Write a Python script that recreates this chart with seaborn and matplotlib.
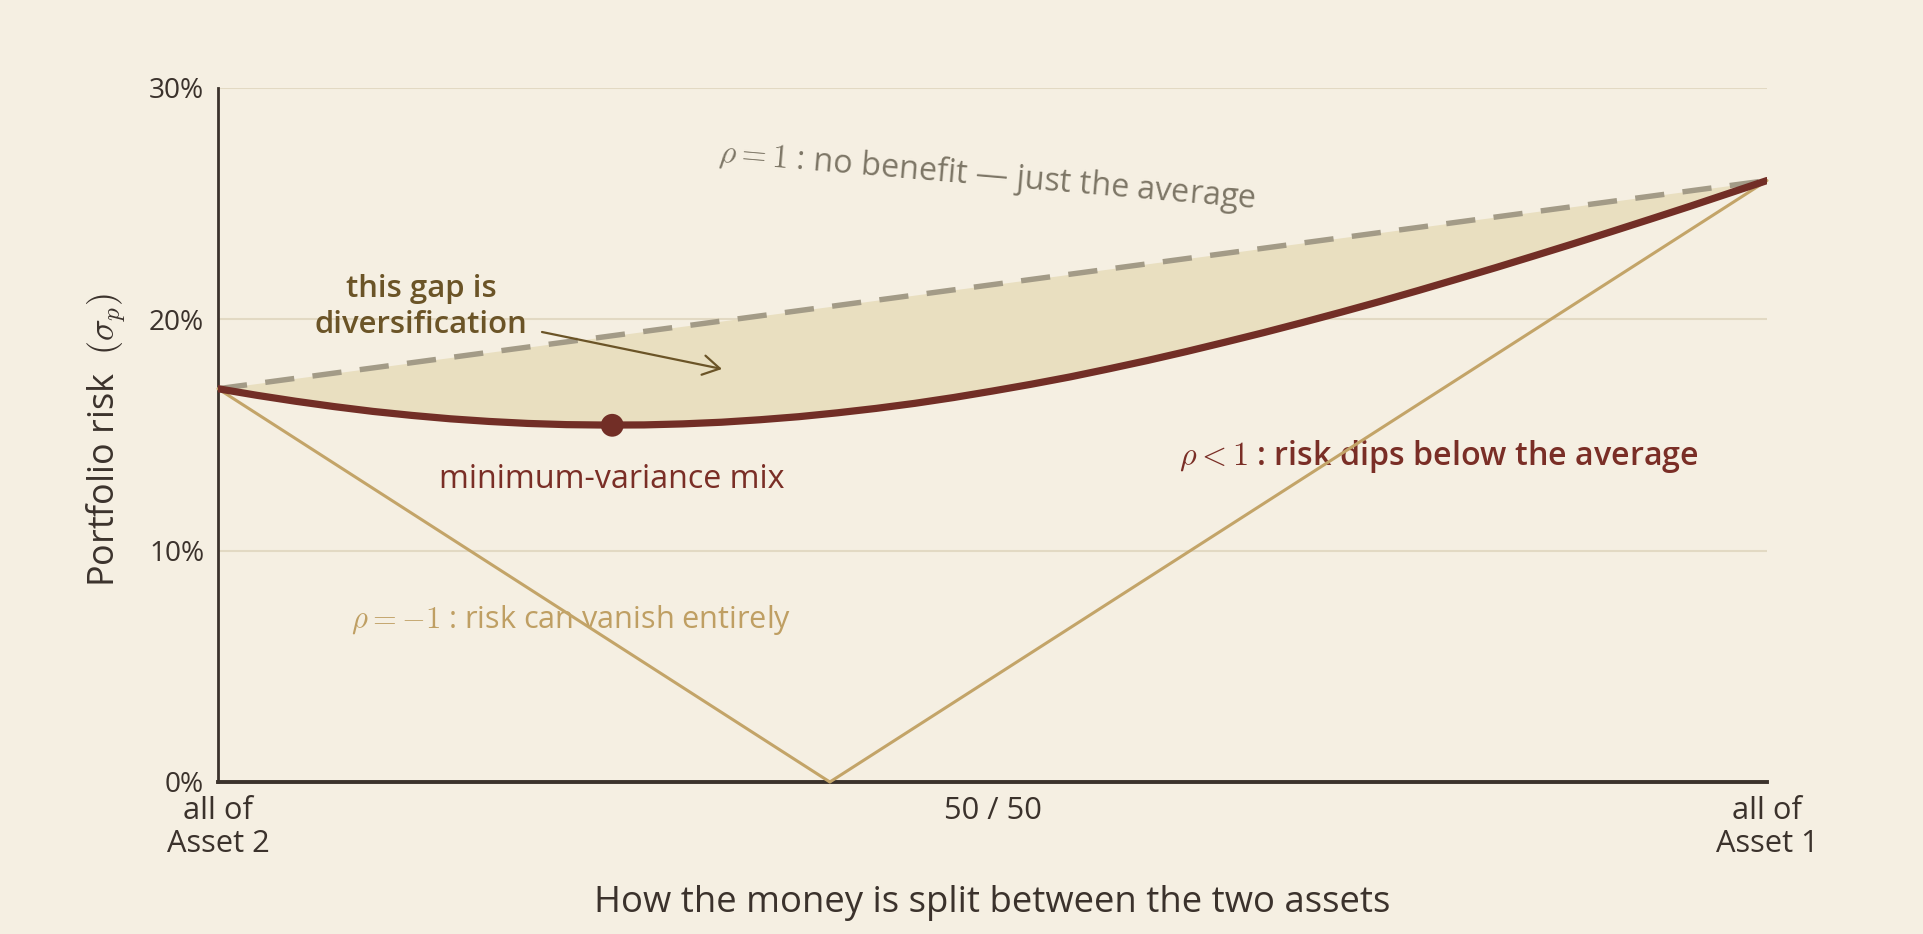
import matplotlib
matplotlib.use("Agg")
import matplotlib.pyplot as plt
import seaborn as sns
import pandas as pd

# ---------------- data ----------------
weights = [0.000, 0.025, 0.050, 0.075, 0.100, 0.125, 0.150, 0.175, 0.200, 0.225,
           0.250, 0.275, 0.300, 0.325, 0.350, 0.375, 0.400, 0.425, 0.450, 0.475,
           0.500, 0.525, 0.550, 0.575, 0.600, 0.625, 0.650, 0.675, 0.700, 0.725,
           0.750, 0.775, 0.800, 0.825, 0.850, 0.875, 0.900, 0.925, 0.950, 0.975, 1.000]
risk_partial = [17.000, 16.717, 16.460, 16.228, 16.020, 15.848, 15.700, 15.586, 15.500, 15.448,
                15.430, 15.436, 15.480, 15.552, 15.660, 15.792, 15.960, 16.151, 16.370, 16.621,
                16.900, 17.194, 17.510, 17.858, 18.220, 18.605, 19.010, 19.425, 19.860, 20.308,
                20.770, 21.248, 21.740, 22.237, 22.750, 23.269, 23.800, 24.337, 24.880, 25.439, 26.000]
risk_perfect = [17.000, 17.225, 17.450, 17.675, 17.900, 18.125, 18.350, 18.575, 18.800, 19.025,
                19.250, 19.475, 19.700, 19.925, 20.150, 20.375, 20.600, 20.825, 21.050, 21.275,
                21.500, 21.725, 21.950, 22.175, 22.400, 22.625, 22.850, 23.075, 23.300, 23.525,
                23.750, 23.975, 24.200, 24.425, 24.650, 24.875, 25.100, 25.325, 25.550, 25.775, 26.000]
neg_weights = [0.000, 0.395, 1.000]
risk_negative = [17.0, 0.0, 26.0]
min_var_weight = [0.2545]
min_var_risk = [15.42]

y_ticks = [0, 10, 20, 30]
y_tick_labels = ["0%", "10%", "20%", "30%"]
x_ticks = [0.0, 0.5, 1.0]
x_tick_labels = ["all of\nAsset 2", "50 / 50", "all of\nAsset 1"]

df_main = pd.DataFrame({"w": weights, "partial": risk_partial, "perfect": risk_perfect})
df_neg = pd.DataFrame({"w": neg_weights, "risk": risk_negative})

# ---------------- style ----------------
BG = "#F5EFE2"
RED = "#722E26"
RED_TXT = "#7A2E26"
DASH = "#A39B87"
FILL = "#E9DFC0"
TAN = "#C3A468"
TAN_TXT = "#BF9F63"
GRID = "#E2D9C3"
INK = "#3B322C"
GAP_TXT = "#6B5427"
GRAY_TXT = "#7D7666"

sns.set_theme(style="white")
plt.rcParams["font.family"] = ["Open Sans", "DejaVu Sans"]
plt.rcParams["mathtext.fontset"] = "cm"

W, H = 1924, 934
fig = plt.figure(figsize=(W / 100, H / 100), dpi=100, facecolor=BG)
L, R, T, B = 218, 1767, 88, 782
ax = fig.add_axes([L / W, 1 - B / H, (R - L) / W, (B - T) / H])
ax.set_facecolor(BG)

def px2data(px, py):
    return (px - L) / (R - L), (B - py) / (B - T) * 30.0

# fill between the two curves
ax.fill_between(df_main["w"], df_main["partial"], df_main["perfect"], color=FILL, lw=0, zorder=1)

sns.lineplot(data=df_neg, x="w", y="risk", ax=ax, color=TAN, lw=2.2,
             estimator=None, sort=False, zorder=3, clip_on=False)
sns.lineplot(data=df_main, x="w", y="perfect", ax=ax, color=DASH, lw=3.9,
             estimator=None, sort=False, zorder=4)
ax.lines[-1].set_dashes((5.4, 3.4))
sns.lineplot(data=df_main, x="w", y="partial", ax=ax, color=RED, lw=5.2,
             estimator=None, sort=False, zorder=5)
ax.lines[-1].set_solid_joinstyle("round")
sns.scatterplot(x=min_var_weight, y=min_var_risk, ax=ax, s=270, color=RED,
                edgecolor="none", zorder=6)

ax.set_xlim(0, 1)
ax.set_ylim(0, 30)
ax.set_yticks(y_ticks)
ax.set_yticklabels(y_tick_labels)
ax.set_xticks(x_ticks)
ax.set_xticklabels(x_tick_labels, linespacing=1.15)
ax.tick_params(axis="y", length=0, pad=10, labelsize=20, labelcolor=INK)
ax.tick_params(axis="x", length=0, pad=10, labelsize=20, labelcolor=INK)

ax.grid(axis="y", color=GRID, lw=1.5, zorder=0)
ax.grid(axis="x", visible=False)
for s in ["top", "right"]:
    ax.spines[s].set_visible(False)
ax.spines["left"].set_color(INK)
ax.spines["left"].set_linewidth(2.0)
ax.spines["bottom"].set_color(INK)
ax.spines["bottom"].set_linewidth(2.8)

ax.set_xlabel("How the money is split between the two assets", fontsize=26, color=INK, va="baseline")
ax.xaxis.set_label_coords(0.5, (B - 912) / (B - T))
ax.set_ylabel("Portfolio risk  $(\\sigma_p)$", fontsize=26, color=INK, va="center")
ax.yaxis.set_label_coords((106 - L) / (R - L), (B - 440) / (B - T))

x0, y0 = px2data(718, 162)
t_perf = ax.text(x0, y0, "$\\rho = 1$ : no benefit — just the average", color=GRAY_TXT,
                 fontsize=22, ha="left", va="baseline", rotation_mode="anchor", zorder=2.5)
x0, y0 = px2data(421, 297)
t_gap1 = ax.text(x0, y0, "this gap is", color=GAP_TXT, fontsize=22, fontweight="semibold",
                 ha="center", va="baseline", zorder=2.5)
x0, y0 = px2data(421, 333)
t_gap2 = ax.text(x0, y0, "diversification", color=GAP_TXT, fontsize=22, fontweight="semibold",
                 ha="center", va="baseline", zorder=2.5)
x0, y0 = px2data(615, 488)
t_min = ax.text(min_var_weight[0], y0, "minimum-variance mix", color=RED_TXT, fontsize=20,
                ha="center", va="baseline", zorder=2.5)
x0, y0 = px2data(1179, 465)
t_pos = ax.text(x0, y0, "$\\rho < 1$ : risk dips below the average", color=RED_TXT, fontsize=20,
                fontweight="semibold", ha="left", va="baseline", zorder=2.5)
x0, y0 = px2data(351, 628)
t_neg = ax.text(x0, y0, "$\\rho = -1$ : risk can vanish entirely", color=TAN_TXT, fontsize=20,
                ha="left", va="baseline", zorder=2.5)

a0 = px2data(542, 332)
a1 = px2data(722, 369)
ax.annotate("", xy=a1, xytext=a0,
            arrowprops=dict(arrowstyle="->, head_length=0.6, head_width=0.35",
                            color=GAP_TXT, lw=1.6, mutation_scale=20, shrinkA=0, shrinkB=0),
            zorder=7)

# ---- fit text sizes to the measured extents of the reference ----
def measure(artist, dim="w"):
    fig.canvas.draw()
    bb = artist.get_window_extent(fig.canvas.get_renderer())
    return bb.width if dim == "w" else bb.height

for _ in range(2):
    for t, target, dim in [(t_perf, 540, "w"), (t_gap2, 213, "w"), (t_min, 346, "w"),
                           (t_pos, 520, "w"), (t_neg, 440, "w"),
                           (ax.xaxis.label, 796, "w"), (ax.yaxis.label, 295, "h")]:
        t.set_fontsize(t.get_fontsize() * target / measure(t, dim))
    t_gap1.set_fontsize(t_gap2.get_fontsize())
    lab30 = ax.get_yticklabels()[-1]
    ysz = lab30.get_fontsize() * 55 / measure(lab30)
    ax.tick_params(axis="y", labelsize=ysz)
    labA = ax.get_xticklabels()[0]
    xsz = labA.get_fontsize() * 103 / measure(labA)
    ax.tick_params(axis="x", labelsize=xsz)

t_perf.set_rotation(-4.9)

fig.savefig("out.png", dpi=100, facecolor=BG)
